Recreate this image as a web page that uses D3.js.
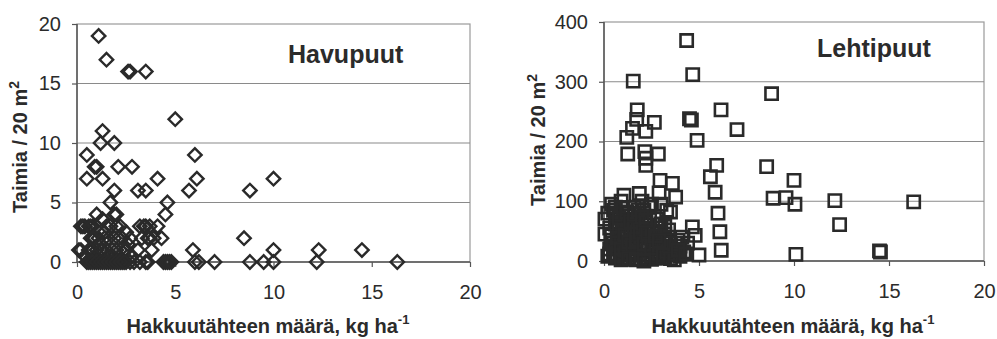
<!DOCTYPE html>
<html>
<head>
<meta charset="utf-8">
<script src="https://cdn.jsdelivr.net/npm/d3@7"></script>
<style>
  body { margin: 0; background: #fff; }
  svg { display: block; }
  text { font-family: "Liberation Sans", Arial, sans-serif; fill: #2b2b2b; }
</style>
</head>
<body>
<svg id="chart" width="997" height="339"></svg>
<script>
//
// Data
//

// Havupuut (conifers): slash amount (kg/ha) and seedlings per 20 m2
const havuX = [1.1, 1.5, 2.6, 2.7, 3.5, 5.0, 1.3, 1.2, 1.9, 0.5, 6.0, 0.9, 1.0, 2.1, 2.8,
  0.5, 1.3, 4.1, 6.1, 10.0, 1.9, 3.1, 3.5, 5.7, 8.8, 1.7, 4.6, 1.0, 1.9, 2.0, 4.5, 1.3,
  0.2, 0.4, 0.6, 0.8, 1.0, 1.7, 2.0, 2.2, 3.2, 3.5, 3.7, 4.1, 1.4, 2.5, 0.3, 0.7, 1.5, 3.4,
  0.7, 0.9, 1.1, 1.6, 1.9, 2.3, 2.7, 3.3, 3.6, 3.9, 4.3, 8.5, 1.2, 2.6, 0.8, 1.4, 2.1, 3.7,
  0.1, 0.2, 0.6, 0.8, 1.0, 1.3, 1.5, 2.0, 2.2, 2.5, 3.1, 3.8, 5.9, 10.0, 12.3, 14.5, 0.4, 1.7,
  0.7, 1.2, 1.8, 2.4, 0.9, 1.6, 2.8,
  0.5, 0.7, 0.9, 1.1, 1.3, 1.5, 1.7, 1.9, 2.1, 2.3, 2.5, 2.7, 2.9, 3.2, 3.5, 3.6,
  0.6, 0.8, 1.0, 1.2, 1.4, 1.6, 1.8, 2.0, 2.2, 2.4,
  4.4, 4.5, 4.6, 4.7, 4.8, 6.0, 6.2, 7.0, 8.8, 9.5, 10.0, 12.2, 16.3];
const havuY = [19, 17, 16, 16, 16, 12, 11, 10, 10, 9, 9, 8, 8, 8, 8,
  7, 7, 7, 7, 7, 6, 6, 6, 6, 6, 5, 5, 4, 4, 4, 4, 3.6,
  3, 3, 3, 3, 3, 3, 3, 3, 3, 3, 3, 3, 2.5, 2.5, 3, 3, 3, 3,
  2, 2, 2, 2, 2, 2, 2, 2, 2, 2, 2, 2, 1.5, 1.5, 2, 2, 2, 2,
  1, 1, 1, 1, 1, 1, 1, 1, 1, 1, 1, 1, 1, 1, 1, 1, 0.5, 0.5,
  1, 1, 1, 1, 0.5, 0.5, 0.5,
  0, 0, 0, 0, 0, 0, 0, 0, 0, 0, 0, 0, 0, 0, 0, 0,
  0, 0, 0, 0, 0, 0, 0, 0, 0, 0,
  0, 0, 0, 0, 0, 0, 0, 0, 0, 0, 0, 0, 0];

// Lehtipuut (broadleaves)
const lehtiX = [4.35, 4.67, 1.54, 8.82, 6.16, 1.75, 4.5, 4.6, 1.72, 2.65, 1.5, 2.2, 7.0,
  1.2, 4.9, 2.15, 1.25, 2.86, 2.2, 2.2, 5.93, 8.56, 5.6, 10.0, 2.95, 3.6, 5.85, 2.9, 3.77,
  1.05, 1.86, 8.9, 9.58, 10.05, 12.15, 16.3, 12.4, 3.4, 6.0, 3.5, 6.1, 4.65, 4.8, 6.17,
  5.0, 10.1, 14.5, 14.55,
  0.05, 0.05, 0.2, 0.3, 0.4, 0.5, 0.6, 0.7, 0.8, 0.9, 1.0, 1.1, 1.2, 1.3, 1.4, 1.5, 1.6,
  1.7, 1.8, 1.9, 2.0, 2.1, 2.2, 2.3, 2.4, 2.5, 2.6, 2.7, 2.8, 2.9, 3.0, 3.1, 3.2, 3.3,
  3.4, 3.5, 3.6, 3.7, 3.8, 3.9, 4.0, 4.2, 4.4, 0.3, 0.5, 0.6, 0.7, 0.9, 1.0, 1.1, 1.2,
  1.4, 1.6, 1.8, 2.0, 2.1, 2.3, 2.5, 2.7, 0.8, 1.3, 1.5, 1.9, 2.2, 2.4, 2.8, 3.0, 3.3,
  0.4, 0.6, 1.7, 2.6, 3.2, 0.2, 1.0, 1.6, 2.9, 3.6, 4.1,
  0.3, 0.5, 0.7, 0.9, 1.1, 1.3, 1.5, 1.7, 1.9, 2.1, 2.3, 2.5, 2.7, 2.9, 3.1, 3.3, 3.5, 3.7,
  0.4, 0.6, 0.8, 1.0, 1.2, 1.4, 1.6, 1.8, 2.0, 2.2, 2.4, 2.6, 2.8, 3.0, 3.2, 3.4, 3.8, 4.0,
  0.5, 0.7, 0.9, 1.1, 1.3, 1.5, 1.7, 1.9, 2.1, 2.3, 2.5, 2.7, 2.9, 3.1, 3.5, 3.9, 4.3,
  0.6, 0.8, 1.0, 1.2, 1.4, 1.6, 1.8, 2.0, 2.2, 0.9, 1.3, 1.7, 2.1];
const lehtiY = [369, 312, 301, 280, 253, 253, 238, 236, 237, 232, 222, 217, 220,
  207, 202, 183, 179, 179, 172, 160, 160, 158, 141, 135, 135, 130, 115, 114, 107,
  110, 113, 105, 106, 95, 101, 99, 61, 52, 80, 82, 49, 57, 43, 18,
  10, 11, 17, 15,
  70, 45, 80, 55, 95, 85, 90, 65, 40, 100, 30, 60, 75, 20, 50, 35, 90,
  10, 70, 25, 100, 85, 5, 60, 40, 95, 15, 30, 10, 55, 20, 35, 5, 25,
  15, 30, 10, 2, 20, 35, 25, 15, 30, 20, 10, 5, 30, 15, 50, 5, 40,
  10, 15, 40, 20, 30, 10, 3, 5, 60, 80, 65, 55, 75, 90, 70, 95, 85,
  35, 25, 45, 48, 45, 8, 12, 3, 8, 15, 40,
  12, 22, 8, 28, 18, 6, 24, 14, 4, 26, 18, 8, 20, 12, 6, 16, 22, 12,
  42, 62, 52, 70, 48, 66, 56, 44, 64, 50, 72, 38, 46, 62, 58, 40, 30, 8,
  30, 38, 20, 44, 32, 26, 36, 48, 28, 46, 22, 42, 34, 10, 4, 18, 12,
  78, 72, 88, 82, 66, 78, 86, 74, 68, 2, 4, 2, 0];

const xTicks = [0, 5, 10, 15, 20];
const havuTicks = [0, 5, 10, 15, 20];
const lehtiTicks = [0, 100, 200, 300, 400];

//
// Drawing
//

const svg = d3.select('#chart');
const ink = '#2a2a2a';

function panel(cfg) {
  const x = d3.scaleLinear().domain([0, 20]).range([cfg.left, cfg.right]);
  const y = d3.scaleLinear().domain([0, cfg.ymax]).range([cfg.bottom, cfg.top]);
  const g = svg.append('g');

  // plot border
  g.append('rect')
    .attr('x', cfg.left).attr('y', cfg.top)
    .attr('width', cfg.right - cfg.left).attr('height', cfg.bottom - cfg.top)
    .attr('fill', 'none').attr('stroke', '#9a9a9a').attr('stroke-width', 1.2);

  // gridlines
  g.selectAll('.grid').data(cfg.yTicks.slice(1, -1)).join('line')
    .attr('x1', cfg.left).attr('x2', cfg.right)
    .attr('y1', d => y(d)).attr('y2', d => y(d))
    .attr('stroke', '#8a8a8a').attr('stroke-width', 1.2);

  // axes
  const yAxis = g.append('g').attr('transform', `translate(${cfg.left},0)`)
    .call(d3.axisLeft(y).tickValues(cfg.yTicks).tickSize(5).tickPadding(11));
  const xAxis = g.append('g').attr('transform', `translate(0,${cfg.bottom})`)
    .call(d3.axisBottom(x).tickValues(xTicks).tickSize(5).tickPadding(18));
  [yAxis, xAxis].forEach(a => {
    a.select('.domain').attr('stroke', '#555').attr('stroke-width', 1.5);
    a.selectAll('.tick line').attr('stroke', '#555').attr('stroke-width', 1.2);
    a.selectAll('.tick text').attr('font-size', 20).attr('fill', '#333')
      .style('font-family', '"Liberation Sans", Arial, sans-serif');
  });
  xAxis.select('.domain').attr('d', `M${cfg.left},0H${cfg.right}`);
  yAxis.select('.domain').attr('d', `M0,${cfg.bottom}V${cfg.top}`);

  // markers
  const sym = d3.symbol(d3.symbolSquare, cfg.size);
  g.selectAll('.pt').data(cfg.xs).join('path')
    .attr('d', sym)
    .attr('transform', (d, i) => `translate(${x(d)},${y(cfg.ys[i])}) rotate(${cfg.rot})`)
    .attr('fill', 'none').attr('stroke', ink).attr('stroke-width', cfg.sw);

  // titles
  g.append('text')
    .attr('x', cfg.titleX).attr('y', cfg.titleY)
    .attr('font-size', 25).attr('font-weight', 'bold').attr('fill', '#2a2a2a')
    .text(cfg.title);

  const yt = g.append('text')
    .attr('transform', `translate(${cfg.ytX},${cfg.ytY}) rotate(-90)`)
    .attr('text-anchor', 'middle')
    .attr('font-size', 20).attr('font-weight', 'bold').attr('fill', '#2a2a2a');
  yt.append('tspan').text('Taimia / 20 m');
  yt.append('tspan').attr('font-size', 14).attr('dy', -8).text('2');

  const xt = g.append('text')
    .attr('x', cfg.xtX).attr('y', 333)
    .attr('text-anchor', 'middle')
    .attr('font-size', 20).attr('font-weight', 'bold').attr('fill', '#2a2a2a');
  xt.append('tspan').text('Hakkuutähteen määrä, kg ha');
  xt.append('tspan').attr('font-size', 13).attr('dy', -9).text('-1');
}

panel({
  left: 77, right: 470, top: 24, bottom: 262, ymax: 20, yTicks: havuTicks,
  xs: havuX, ys: havuY, size: 90, rot: 45, sw: 2.4,
  title: 'Havupuut', titleX: 288, titleY: 63,
  ytX: 27, ytY: 147, xtX: 268
});

panel({
  left: 604, right: 984, top: 22, bottom: 261, ymax: 400, yTicks: lehtiTicks,
  xs: lehtiX, ys: lehtiY, size: 150, rot: 0, sw: 2.6,
  title: 'Lehtipuut', titleX: 817, titleY: 57,
  ytX: 545, ytY: 140, xtX: 793
});
</script>
</body>
</html>
